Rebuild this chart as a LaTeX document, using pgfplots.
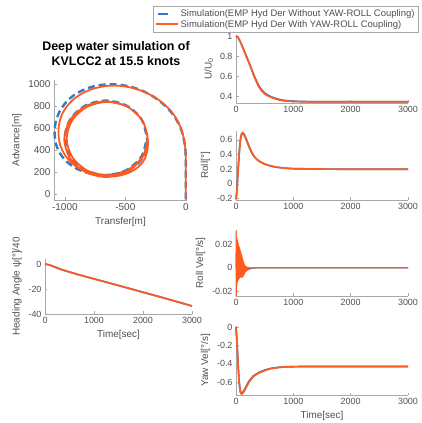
\documentclass[border=0pt]{standalone}
\usepackage{fontspec}
\setmainfont{Liberation Sans}
\usepackage{pgfplots}
\pgfplotsset{compat=1.18}
\definecolor{MOrange}{HTML}{FF5A1F}
\definecolor{MBlue}{HTML}{2F7BCB}
\definecolor{AxGray}{HTML}{A8A8A8}
\definecolor{TxtGray}{HTML}{505050}
\pgfplotsset{
  mstyle/.style={
    scale only axis, anchor=south west, clip=false,
    axis lines=left, axis line style={-,AxGray,line width=0.6pt},
    tick align=inside, tick style={AxGray,line width=0.5pt}, major tick length=2.5bp,
    tick label style={font=\fontsize{9}{10}\selectfont,text=TxtGray},
    label style={font=\fontsize{10}{11}\selectfont,text=TxtGray},
    /pgf/number format/assume math mode=true,
    /pgf/number format/1000 sep={},
    scaled y ticks=false, scaled x ticks=false,
    yticklabel style={/pgf/number format/fixed,/pgf/number format/precision=2},
  },
  tseries/.style={mstyle, width=172bp, xmin=0, xmax=3000, xtick={0,1000,2000,3000}},
  oline/.style={MOrange,line width=1.7pt,line join=round},
  bline/.style={MBlue,line width=1.7pt,line join=round},
}
\begin{document}
\begin{tikzpicture}
\useasboundingbox (0bp,0bp) rectangle (422bp,423bp);

\node[font=\bfseries\fontsize{12.5}{15}\selectfont,align=center] at (116bp,369bp)
  {Deep water simulation of\\KVLCC2 at 15.5 knots};

% trajectory
\begin{axis}[mstyle, at={(54bp,223bp)}, width=133bp, height=120bp,
  xmin=-1090, xmax=10, ymin=-55, ymax=1040,
  xtick={-1000,-500,0}, ytick={0,200,400,600,800,1000},
  tick label style={font=\fontsize{10}{11}\selectfont},
  xlabel={Transfer[m]}, ylabel={Advance[m]}]
\addplot[MBlue,line width=2.4pt,dash pattern=on 7pt off 4pt,smooth] coordinates {
(0,-50) (0,150) (0,300) (-3,400) (-16,500) (-42,600) (-90,700) (-158,792) (-250,875)
(-355,940) (-470,982) (-590,1000) (-700,995) (-805,968) (-900,920) (-980,850)
(-1040,760) (-1075,660) (-1085,560) (-1075,460) (-1040,370) (-985,295) (-910,235)
(-820,195) (-720,175) (-620,175) (-530,195) (-450,235) (-385,290) (-340,360)
(-322,440) (-321,512) (-366.6,682) (-491,806.4) (-661,852) (-831,806.4) (-955.4,682)
(-1001,512) (-955.4,342) (-831,217.6) (-661,172) (-491,217.6) (-366.6,342) (-321,512)};
\addplot[oline,line width=1.8pt,smooth] coordinates {
(0,-50) (0,150) (0,300) (-3,400) (-15,500) (-40,600) (-85,700) (-150,790) (-240,870)
(-340,930) (-450,970) (-560,988) (-660,985) (-760,962) (-850,922) (-930,862)
(-990,790) (-1030,710) (-1050,620) (-1052,530) (-1037,440) (-1002,360) (-950,290)
(-882,232) (-800,190) (-710,165) (-620,158) (-530,172) (-450,205) (-385,255)
(-340,320) (-318,400) (-315,505) (-360,672.5) (-482.5,795) (-650,840) (-817.5,795)
(-940,672.5) (-985,505) (-940,337.5) (-817.5,215) (-650,170) (-482.5,215)
(-360,337.5) (-315,500) (-361.2,672.5) (-487.5,798.8) (-660,845) (-832.5,798.8)
(-958.8,672.5) (-1005,500) (-958.8,327.5) (-832.5,201.2) (-660,155) (-487.5,201.2)
(-361.2,327.5) (-318,480)};
\end{axis}

% heading
\begin{axis}[mstyle, at={(45bp,109bp)}, width=147bp, height=55bp,
  xmin=0, xmax=3000, ymin=-40, ymax=4,
  xtick={0,1000,2000,3000}, ytick={-40,-20,0},
  xlabel={Time[sec]}, ylabel={Heading Angle ψ[°]/40}]
\addplot[bline,smooth] coordinates {
(0,0) (100,-0.9) (200,-2.4) (300,-3.9) (400,-5.2) (500,-6.4) (700,-8.7) (1000,-11.9)
(1500,-17.2) (2000,-22.6) (2500,-28) (3000,-33.6)};
\addplot[oline,smooth] coordinates {
(0,0) (100,-0.9) (200,-2.4) (300,-3.9) (400,-5.2) (500,-6.4) (700,-8.7) (1000,-11.9)
(1500,-17.2) (2000,-22.6) (2500,-28) (3000,-33.6)};
\end{axis}

% U/U0
\begin{axis}[tseries, at={(236bp,320bp)}, height=68bp,
  ymin=0.33, ymax=1.01, ytick={0.4,0.6,0.8,1},
  ylabel={U/U\textsubscript{0}},
  legend style={at={(axis description cs:-0.483,1.43)}, anchor=north west,
    draw=AxGray, fill=white, inner xsep=1.5bp, inner ysep=1.5bp,
    font=\fontsize{9.5}{10.5}\selectfont, text=TxtGray,
    cells={anchor=west}, row sep=-1.5bp}]
\addlegendimage{legend image code/.code={\draw[MBlue,line width=2pt] (2bp,0bp) -- (12bp,0bp);}}
\addlegendentry{Simulation(EMP Hyd Der Without YAW-ROLL Coupling)}
\addlegendimage{legend image code/.code={\draw[MOrange,line width=2pt] (0bp,0bp) -- (22bp,0bp);}}
\addlegendentry{Simulation(EMP Hyd Der With YAW-ROLL Coupling)}
\addplot[bline,smooth,forget plot] coordinates {
(0,1) (30,0.99) (60,0.96) (100,0.91) (150,0.84) (200,0.77) (250,0.70) (300,0.625)
(350,0.56) (400,0.50) (450,0.46) (500,0.43) (600,0.395) (700,0.375) (800,0.36)
(1000,0.348) (1500,0.342) (3000,0.342)};
\addplot[oline,smooth,forget plot] coordinates {
(0,1) (30,0.99) (60,0.96) (100,0.91) (150,0.84) (200,0.77) (250,0.70) (300,0.62)
(350,0.55) (400,0.49) (450,0.45) (500,0.42) (600,0.39) (700,0.37) (800,0.355)
(1000,0.345) (1500,0.342) (3000,0.342)};
\end{axis}

% Roll
\begin{axis}[tseries, at={(236bp,223bp)}, height=69bp,
  ymin=-0.22, ymax=0.72, ytick={-0.2,0,0.2,0.4,0.6},
  ylabel={Roll[°]}]
\addplot[bline,smooth] coordinates {
(0,-0.21) (15,-0.1) (30,0.1) (50,0.35) (70,0.55) (90,0.66) (115,0.69) (140,0.67)
(180,0.60) (230,0.50) (280,0.42) (330,0.36) (400,0.31) (500,0.27) (600,0.245)
(700,0.228) (850,0.215) (1000,0.207) (1500,0.201) (2000,0.2) (3000,0.2)};
\addplot[oline,smooth] coordinates {
(0,-0.21) (15,-0.1) (30,0.1) (50,0.35) (70,0.55) (90,0.66) (115,0.70) (140,0.68)
(180,0.61) (230,0.51) (280,0.42) (330,0.36) (400,0.31) (500,0.27) (600,0.245)
(700,0.228) (850,0.215) (1000,0.207) (1500,0.201) (2000,0.2) (3000,0.2)};
\end{axis}

% Roll Vel
\begin{axis}[tseries, at={(236bp,127bp)}, height=66bp,
  ymin=-0.024, ymax=0.032, ytick={-0.02,0,0.02},
  ylabel={Roll Vel[°/s]}]
\addplot[bline,line width=1.2pt] coordinates {
(0,0) (50,-0.004) (100,-0.004) (150,-0.003) (200,-0.0015) (300,-0.0003) (400,0) (3000,0)};
\addplot[oline,line width=1.1pt] coordinates {
(0,0) (2,0.031) (4,-0.024) (6,0.028) (8,-0.022) (10,0.026) (12,-0.018) (14,0.025)
(16,-0.015) (18,0.024) (20,-0.013) (23,0.023) (26,-0.012) (29,0.022) (32,-0.011)
(35,0.021) (38,-0.010) (41,0.020) (44,-0.010) (47,0.019) (50,-0.009) (53,0.018)
(56,-0.009) (59,0.017) (62,-0.008) (65,0.016) (68,-0.008) (71,0.015) (74,-0.008)
(77,0.014) (80,-0.008) (83,0.013) (86,-0.008) (89,0.012) (92,-0.008) (95,0.011)
(98,-0.008) (101,0.010) (104,-0.008) (107,0.009) (110,-0.008) (113,0.008)
(116,-0.008) (119,0.007) (122,-0.007) (125,0.006) (128,-0.007) (131,0.005)
(134,-0.006) (137,0.004) (140,-0.006) (144,0.003) (148,-0.005) (152,0.002)
(156,-0.004) (160,0.0015) (165,-0.0035) (170,0.001) (175,-0.003) (180,0.0008)
(186,-0.0025) (192,0.0005) (198,-0.002) (205,0.0003) (212,-0.0015) (220,0.0002)
(230,-0.001) (240,0.0001) (255,-0.0006) (270,0) (300,-0.0002) (400,0) (3000,0)};
\end{axis}

% Yaw Vel
\begin{axis}[tseries, at={(236bp,28bp)}, height=69bp,
  ymin=-0.74, ymax=0.01, ytick={-0.6,-0.4,-0.2,0},
  xlabel={Time[sec]}, ylabel={Yaw Vel[°/s]}]
\addplot[bline,smooth] coordinates {
(0,0) (20,-0.2) (40,-0.45) (60,-0.63) (80,-0.71) (95,-0.725) (120,-0.71) (150,-0.68)
(200,-0.62) (250,-0.57) (300,-0.535) (400,-0.495) (500,-0.47) (600,-0.452)
(700,-0.443) (800,-0.437) (1000,-0.432) (1500,-0.43) (3000,-0.43)};
\addplot[oline,smooth] coordinates {
(0,0) (20,-0.2) (40,-0.45) (60,-0.63) (80,-0.71) (95,-0.73) (120,-0.72) (150,-0.69)
(200,-0.63) (250,-0.58) (300,-0.54) (400,-0.50) (500,-0.475) (600,-0.455)
(700,-0.445) (800,-0.437) (1000,-0.432) (1500,-0.43) (3000,-0.43)};
\end{axis}
\end{tikzpicture}
\end{document}
